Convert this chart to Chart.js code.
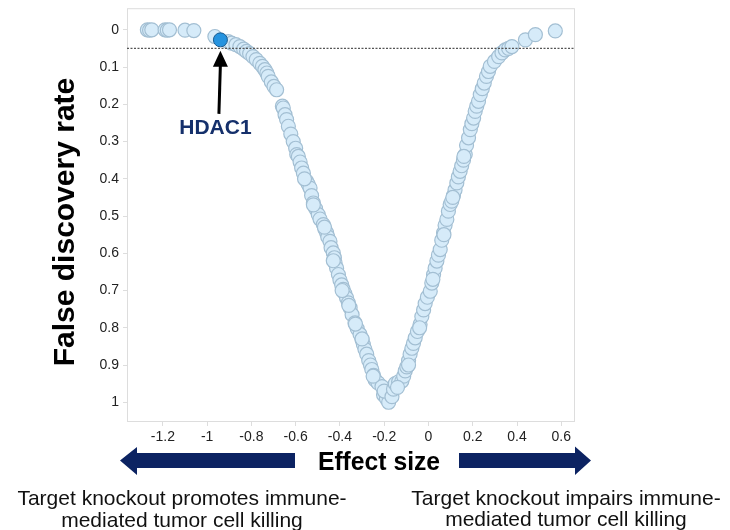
<!DOCTYPE html>
<html>
<head>
<meta charset="utf-8">
<script src="https://cdn.jsdelivr.net/npm/chart.js@4.4.1/dist/chart.umd.min.js"></script>
<style>
  html, body { margin: 0; padding: 0; background: #fff; }
  canvas { display: block; }
</style>
</head>
<body>
<canvas id="volcano" width="730" height="530"></canvas>
<script>
// screened genes: effect size vs false discovery rate
const effectSize = [
  -1.27, -1.26, -1.25, -1.19, -1.18, -1.17, -1.10, -1.06,
  -0.965, -0.905, -0.89, -0.87, -0.852, -0.835, -0.822, -0.808, -0.793, -0.778,
  -0.762, -0.75, -0.739, -0.73, -0.724, -0.71, -0.698, -0.686, -0.66, -0.656,
  -0.648, -0.641, -0.633, -0.622, -0.611, -0.60, -0.595, -0.588, -0.58, -0.573,
  -0.565, -0.55, -0.543, -0.535, -0.528, -0.52, -0.51, -0.498, -0.49, -0.475,
  -0.468, -0.46, -0.455, -0.445, -0.44, -0.43, -0.425, -0.422, -0.415, -0.407,
  -0.40, -0.392, -0.385, -0.378, -0.37, -0.362, -0.354, -0.345, -0.332, -0.322,
  -0.309, -0.30, -0.294, -0.287, -0.279, -0.27, -0.262, -0.256, -0.248, -0.241,
  -0.228, -0.21, -0.203, -0.19, -0.18,
  -0.56, -0.52, -0.47, -0.43, -0.39, -0.36, -0.33, -0.30, -0.25, -0.20,
  -0.165, -0.158, -0.15, -0.135, -0.12, -0.112, -0.105, -0.098, -0.09, -0.083,
  -0.075, -0.068, -0.06, -0.05, -0.038, -0.03, -0.022, -0.015, -0.005, 0.008,
  0.015, 0.023, 0.03, 0.038, 0.045, 0.053, 0.06, 0.068, 0.075, 0.083,
  0.09, 0.098, 0.105, 0.113, 0.12, 0.128, 0.135, 0.143, 0.15, 0.158,
  0.166, 0.172, 0.181, 0.189, 0.196, 0.204, 0.211, 0.218, 0.226, 0.234,
  0.243, 0.252, 0.262, 0.271, 0.279, 0.298, 0.317, 0.332, 0.347, 0.362,
  0.377, 0.438, 0.483, 0.573,
  -0.14, -0.09, -0.04, 0.02, 0.07, 0.11, 0.16
];
const falseDiscovery = [
  0.0, 0.001, 0.0, 0.0, 0.001, 0.0, 0.001, 0.002,
  0.018, 0.032, 0.036, 0.040, 0.045, 0.052, 0.058, 0.064, 0.072, 0.080,
  0.090, 0.098, 0.107, 0.116, 0.125, 0.140, 0.152, 0.161, 0.205, 0.210,
  0.228, 0.241, 0.259, 0.280, 0.300, 0.318, 0.335, 0.340, 0.355, 0.371,
  0.385, 0.407, 0.415, 0.425, 0.445, 0.465, 0.480, 0.496, 0.508, 0.523,
  0.535, 0.545, 0.556, 0.568, 0.585, 0.599, 0.612, 0.626, 0.640, 0.657,
  0.672, 0.685, 0.697, 0.708, 0.720, 0.733, 0.746, 0.765, 0.787, 0.802,
  0.818, 0.832, 0.845, 0.858, 0.871, 0.888, 0.900, 0.912, 0.928, 0.940,
  0.948, 0.958, 0.980, 0.990, 1.0,
  0.400, 0.470, 0.530, 0.620, 0.700, 0.740, 0.790, 0.830, 0.930, 0.970,
  0.985, 0.965, 0.950, 0.945, 0.943, 0.930, 0.916, 0.905, 0.888, 0.871,
  0.855, 0.842, 0.827, 0.810, 0.791, 0.770, 0.752, 0.735, 0.718, 0.702,
  0.680, 0.657, 0.640, 0.621, 0.605, 0.590, 0.565, 0.545, 0.525, 0.509,
  0.487, 0.469, 0.460, 0.445, 0.430, 0.411, 0.395, 0.380, 0.365, 0.350,
  0.335, 0.310, 0.290, 0.268, 0.252, 0.237, 0.219, 0.205, 0.192, 0.174,
  0.158, 0.143, 0.125, 0.112, 0.098, 0.085, 0.072, 0.062, 0.054, 0.050,
  0.045, 0.027, 0.013, 0.003,
  0.960, 0.900, 0.800, 0.670, 0.550, 0.450, 0.340
];

// highlighted gene
const hdac1Effect = [-0.94];
const hdac1Fdr = [0.027];
const hdac1Label = 'HDAC1';

const fdrCutoff = 0.05;
const xRange = [-1.362, 0.662];
const yRange = [-0.058, 1.053];
const xTicks = [-1.2, -1, -0.8, -0.6, -0.4, -0.2, 0, 0.2, 0.4, 0.6];
const yTicks = [0, 0.1, 0.2, 0.3, 0.4, 0.5, 0.6, 0.7, 0.8, 0.9, 1];

const FONT = '"Liberation Sans", Arial, sans-serif';
const NAVY = '#0c2362';

const genePoints = effectSize.map((v, i) => ({ x: v, y: falseDiscovery[i] }));
const hdac1Points = hdac1Effect.map((v, i) => ({ x: v, y: hdac1Fdr[i] }));

const frameAndNotes = {
  id: 'frameAndNotes',
  beforeDatasetsDraw(chart) {
    const { ctx, chartArea: a } = chart;
    ctx.save();
    ctx.strokeStyle = '#dddddd';
    ctx.lineWidth = 1;
    ctx.strokeRect(a.left + 0.5, a.top + 0.5, a.right - a.left - 1, a.bottom - a.top - 1);
    ctx.restore();
  },
  afterDraw(chart) {
    const { ctx } = chart;
    const xs = chart.scales.x, ys = chart.scales.y;

    // HDAC1 pointer and label
    const px = xs.getPixelForValue(hdac1Effect[0]);
    const py = ys.getPixelForValue(hdac1Fdr[0]);
    ctx.save();
    ctx.strokeStyle = '#000';
    ctx.fillStyle = '#000';
    ctx.lineWidth = 3;
    ctx.beginPath();
    ctx.moveTo(px - 1.5, py + 74);
    ctx.lineTo(px, py + 24);
    ctx.stroke();
    ctx.beginPath();
    ctx.moveTo(px, py + 11);
    ctx.lineTo(px - 7.5, py + 27);
    ctx.lineTo(px + 7.5, py + 27);
    ctx.closePath();
    ctx.fill();
    ctx.font = 'bold 21px ' + FONT;
    ctx.fillStyle = '#15306b';
    ctx.textAlign = 'center';
    ctx.textBaseline = 'alphabetic';
    ctx.fillText(hdac1Label, px - 5, py + 94);
    ctx.restore();

    // y title
    ctx.save();
    ctx.translate(66, 222);
    ctx.rotate(-Math.PI / 2);
    ctx.font = 'bold 30px ' + FONT;
    ctx.fillStyle = '#000';
    ctx.textAlign = 'center';
    ctx.textBaseline = 'middle';
    ctx.fillText('False discovery rate', 0, 0);
    ctx.restore();

    // direction arrows
    ctx.save();
    ctx.fillStyle = NAVY;
    ctx.beginPath();
    ctx.moveTo(120, 460.5);
    ctx.lineTo(137, 447);
    ctx.lineTo(137, 453);
    ctx.lineTo(295, 453);
    ctx.lineTo(295, 468);
    ctx.lineTo(137, 468);
    ctx.lineTo(137, 475);
    ctx.closePath();
    ctx.fill();
    ctx.beginPath();
    ctx.moveTo(591, 460.5);
    ctx.lineTo(575, 446.5);
    ctx.lineTo(575, 453);
    ctx.lineTo(459, 453);
    ctx.lineTo(459, 468);
    ctx.lineTo(575, 468);
    ctx.lineTo(575, 475);
    ctx.closePath();
    ctx.fill();
    ctx.restore();

    // x title
    ctx.save();
    ctx.font = 'bold 26px ' + FONT;
    ctx.fillStyle = '#000';
    ctx.textAlign = 'center';
    ctx.textBaseline = 'alphabetic';
    ctx.translate(379, 470);
    ctx.scale(0.95, 1);
    ctx.fillText('Effect size', 0, 0);
    ctx.restore();

    // captions
    ctx.save();
    ctx.font = '21px ' + FONT;
    ctx.fillStyle = '#111';
    ctx.textAlign = 'center';
    ctx.fillText('Target knockout promotes immune-', 182, 505);
    ctx.fillText('mediated tumor cell killing', 182, 527);
    ctx.fillText('Target knockout impairs immune-', 566, 505);
    ctx.fillText('mediated tumor cell killing', 566, 526);
    ctx.restore();
  }
};

const fmt = v => String(Math.round(v * 10) / 10);

new Chart(document.getElementById('volcano'), {
  type: 'scatter',
  data: {
    datasets: [
      {
        label: hdac1Label,
        data: hdac1Points,
        pointRadius: 7,
        backgroundColor: '#2593df',
        borderColor: '#175a90',
        borderWidth: 1
      },
      {
        type: 'line',
        label: 'FDR cutoff',
        data: [{ x: xRange[0], y: fdrCutoff }, { x: xRange[1], y: fdrCutoff }],
        borderColor: '#555',
        borderWidth: 1.3,
        borderDash: [2, 1.5],
        pointRadius: 0,
        fill: false
      },
      {
        label: 'Genes',
        data: genePoints,
        pointRadius: 7,
        backgroundColor: '#d6ebf9',
        borderColor: '#a3bfd3',
        borderWidth: 1.2
      }
    ]
  },
  options: {
    responsive: false,
    animation: false,
    events: [],
    layout: { padding: { left: 0, top: 7, right: 155, bottom: 78 } },
    plugins: {
      legend: { display: false },
      tooltip: { enabled: false }
    },
    scales: {
      x: {
        type: 'linear',
        min: xRange[0],
        max: xRange[1],
        afterBuildTicks: s => { s.ticks = xTicks.map(v => ({ value: v })); },
        afterFit: s => { s.height = 30; s.paddingLeft = 0; s.paddingRight = 0; },
        ticks: { color: '#222', font: { family: FONT, size: 14 }, padding: 3, callback: fmt, maxRotation: 0 },
        grid: { drawOnChartArea: false, tickLength: 4, color: '#dddddd' },
        border: { display: false }
      },
      y: {
        type: 'linear',
        reverse: true,
        min: yRange[0],
        max: yRange[1],
        afterBuildTicks: s => { s.ticks = yTicks.map(v => ({ value: v })); },
        afterFit: s => { s.width = 127; s.paddingTop = 0; s.paddingBottom = 0; },
        ticks: { color: '#222', font: { family: FONT, size: 14 }, padding: 4, callback: fmt },
        grid: { drawOnChartArea: false, tickLength: 4, color: '#dddddd' },
        border: { display: false }
      }
    }
  },
  plugins: [frameAndNotes]
});
</script>
</body>
</html>
